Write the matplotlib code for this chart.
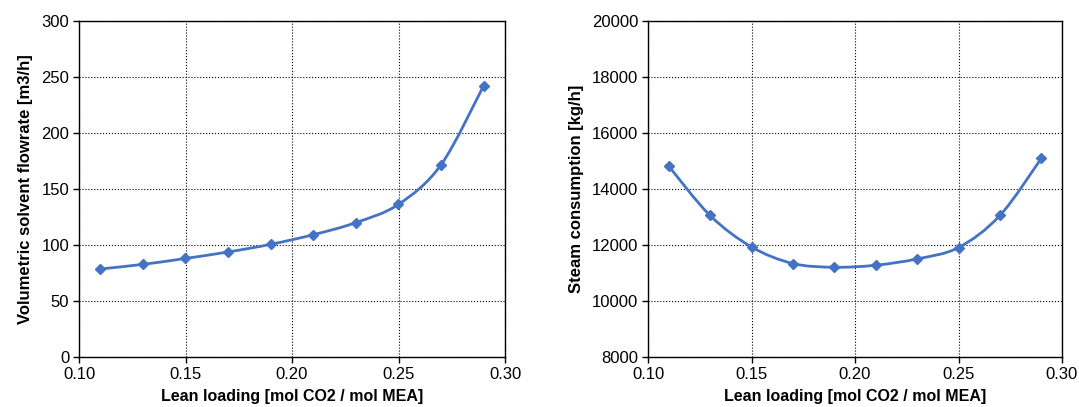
import numpy as np
import matplotlib.pyplot as plt
from matplotlib.path import Path
from matplotlib.patches import PathPatch

plt.rcParams['font.family'] = ['Liberation Sans', 'DejaVu Sans']

lean_loading = [0.11, 0.13, 0.15, 0.17, 0.19, 0.21, 0.23, 0.25, 0.27, 0.29]
solvent_flow = [78.6, 82.7, 88.0, 93.8, 100.6, 109.2, 120.0, 136.3, 171.7, 242.3]
steam = [14817, 13054, 11932, 11339, 11206, 11278, 11503, 11910, 13054, 15092]

color = '#4472C4'


def smooth_path(x, y):
    # Excel-like smoothed line: cubic Bezier segments (Catmull-Rom control points)
    x = np.asarray(x, float)
    y = np.asarray(y, float)
    n = len(x)
    verts = [(x[0], y[0])]
    codes = [Path.MOVETO]
    for i in range(n - 1):
        i0 = max(i - 1, 0)
        i3 = min(i + 2, n - 1)
        c1 = (x[i] + (x[i + 1] - x[i0]) / 6, y[i] + (y[i + 1] - y[i0]) / 6)
        c2 = (x[i + 1] - (x[i3] - x[i]) / 6, y[i + 1] - (y[i3] - y[i]) / 6)
        verts += [c1, c2, (x[i + 1], y[i + 1])]
        codes += [Path.CURVE4] * 3
    return Path(verts, codes)


fig = plt.figure(figsize=(10.79, 4.07), dpi=100)
ax1 = fig.add_axes([79 / 1079, 1 - 357 / 407, 426 / 1079, 336 / 407])
ax2 = fig.add_axes([648 / 1079, 1 - 357 / 407, 414 / 1079, 336 / 407])

for ax, vals, ylim, yticks, ylabel in [
    (ax1, solvent_flow, (0, 300), np.arange(0, 301, 50), 'Volumetric solvent flowrate [m3/h]'),
    (ax2, steam, (8000, 20000), np.arange(8000, 20001, 2000), 'Steam consumption [kg/h]'),
]:
    ax.add_patch(PathPatch(smooth_path(lean_loading, vals), facecolor='none',
                           edgecolor=color, lw=2, zorder=3))
    ax.plot(lean_loading, vals, ls='none', marker='D', ms=5.5, color=color, zorder=4)
    ax.set_xlim(0.10, 0.30)
    ax.set_ylim(*ylim)
    ax.set_xticks(np.arange(0.10, 0.301, 0.05))
    ax.xaxis.set_major_formatter(plt.FormatStrFormatter('%.2f'))
    ax.set_yticks(yticks)
    ax.grid(True, color='black', ls=':', lw=0.8)
    ax.set_axisbelow(True)
    for s in ax.spines.values():
        s.set_linewidth(1.0)
    ax.tick_params(direction='out', length=4, width=1, labelsize=12, pad=3)
    ax.set_xlabel('Lean loading [mol CO2 / mol MEA]', fontsize=11.5, fontweight='bold', labelpad=5)
    ax.set_ylabel(ylabel, fontsize=12, fontweight='bold', labelpad=6)

fig.savefig('out.png', dpi=100)
